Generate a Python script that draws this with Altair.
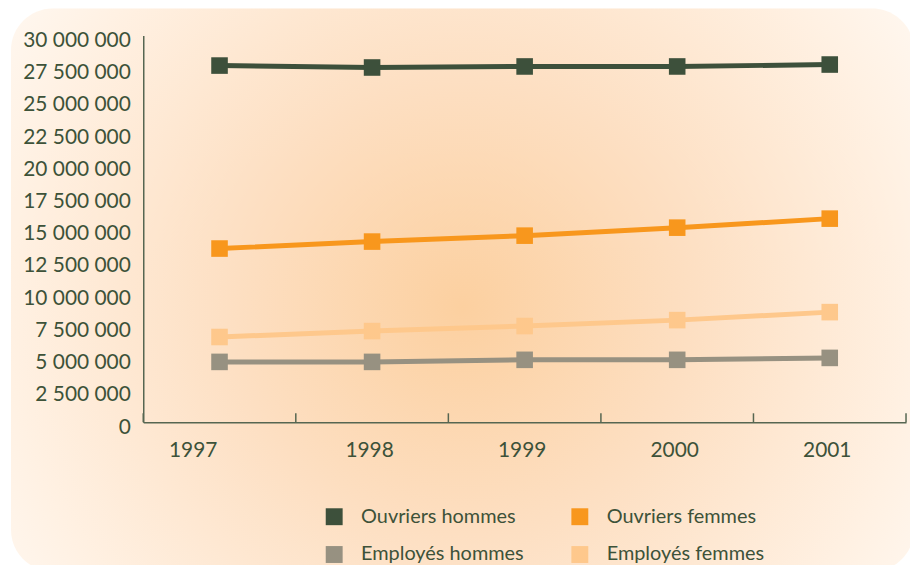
import altair as alt
import pandas as pd

years = [1997, 1998, 1999, 2000, 2001]
series_names = ["Ouvriers hommes", "Employés hommes", "Ouvriers femmes", "Employés femmes"]
ouvriers_hommes = [27660000, 27510000, 27590000, 27590000, 27740000]
employes_hommes = [4680000, 4680000, 4840000, 4840000, 4990000]
ouvriers_femmes = [13470000, 14010000, 14470000, 15090000, 15790000]
employes_femmes = [6610000, 7070000, 7460000, 7920000, 8540000]
series_colors = ["#3d503b", "#979181", "#f8971d", "#fec88c"]
y_ticks = [0, 2500000, 5000000, 7500000, 10000000, 12500000, 15000000, 17500000,
           20000000, 22500000, 25000000, 27500000, 30000000]
band_edges = [1996.5, 1997.5, 1998.5, 1999.5, 2000.5, 2001.5]

rows = []
for name, vals in zip(series_names, [ouvriers_hommes, employes_hommes, ouvriers_femmes, employes_femmes]):
    for yr, v in zip(years, vals):
        rows.append({"annee": yr, "serie": name, "valeur": v})
df = pd.DataFrame(rows)

W, H = 767, 389
TXT = "#3d5239"
AX = "#566651"
FONT = "Lato"

xscale = alt.Scale(domain=[1996.5, 2001.5], nice=False, zero=False)
yscale = alt.Scale(domain=[0, 30000000], nice=False)

gradient = {
    "gradient": "radial",
    "x1": 0.5, "y1": 0.52, "r1": 0,
    "x2": 0.5, "y2": 0.52, "r2": 0.72,
    "stops": [
        {"offset": 0, "color": "#fcd0a0"},
        {"offset": 0.35, "color": "#fddfc2"},
        {"offset": 0.7, "color": "#fff1e3"},
        {"offset": 1, "color": "#ffffff"},
    ],
}

xaxis = alt.Axis(
    values=years, format="d", grid=False, ticks=False, domain=True, zindex=1,
    domainColor=AX, domainWidth=1.5, labelColor=TXT, labelFont=FONT,
    labelFontSize=21, labelPadding=17,
    labelOffset=alt.ExprRef("datum.value == 1997 ? -27 : -3"),
)
yaxis = alt.Axis(
    values=y_ticks, grid=False, ticks=False, domain=True, zindex=1,
    domainColor=AX, domainWidth=1.5, labelColor=TXT, labelFont=FONT,
    labelFontSize=21, labelPadding=13, labelOffset=5,
    labelExpr="replace(format(datum.value, ','), regexp(',', 'g'), ' ')",
)
legend = alt.Legend(
    title=None, orient="none", legendX=182, legendY=474,
    columns=2, columnPadding=46, rowPadding=18,
    symbolType="square", symbolSize=289, symbolStrokeWidth=0,
    symbolOpacity=1, labelFont=FONT, labelFontSize=20,
    labelColor=TXT, labelOffset=17, labelLimit=400,
)

bg = alt.Chart(pd.DataFrame({"a": [0]})).mark_rect(
    color=gradient, cornerRadius=42, clip=False
).encode(
    x=alt.value(-133), x2=alt.value(W + 8),
    y=alt.value(-27), y2=alt.value(H + 150),
)

ticks = alt.Chart(pd.DataFrame({"edge": band_edges})).mark_rule(
    color=AX, strokeWidth=1.5
).encode(
    x=alt.X("edge:Q", scale=xscale, title=None, axis=xaxis),
    y=alt.value(H - 9), y2=alt.value(H),
)

color = alt.Color(
    "serie:N",
    scale=alt.Scale(domain=series_names, range=series_colors),
    sort=series_names,
    legend=legend,
)

lines = alt.Chart(df).mark_line(strokeWidth=5).encode(
    x=alt.X("annee:Q", scale=xscale, title=None, axis=xaxis),
    y=alt.Y("valeur:Q", scale=yscale, title=None, axis=yaxis),
    color=color,
)

points = alt.Chart(df).mark_point(shape="square", size=278, filled=True, opacity=1).encode(
    x=alt.X("annee:Q", scale=xscale, title=None, axis=xaxis),
    y=alt.Y("valeur:Q", scale=yscale, title=None, axis=yaxis),
    color=color,
)

chart = alt.layer(bg, ticks, lines, points).properties(
    width=W, height=H,
    autosize=alt.AutoSizeParams(type="none"),
    padding={"left": 136, "top": 26, "right": 4, "bottom": 142},
    background="white",
).configure_view(stroke=None)

chart.save("out.html", embed_options={"renderer": "svg", "actions": False})
